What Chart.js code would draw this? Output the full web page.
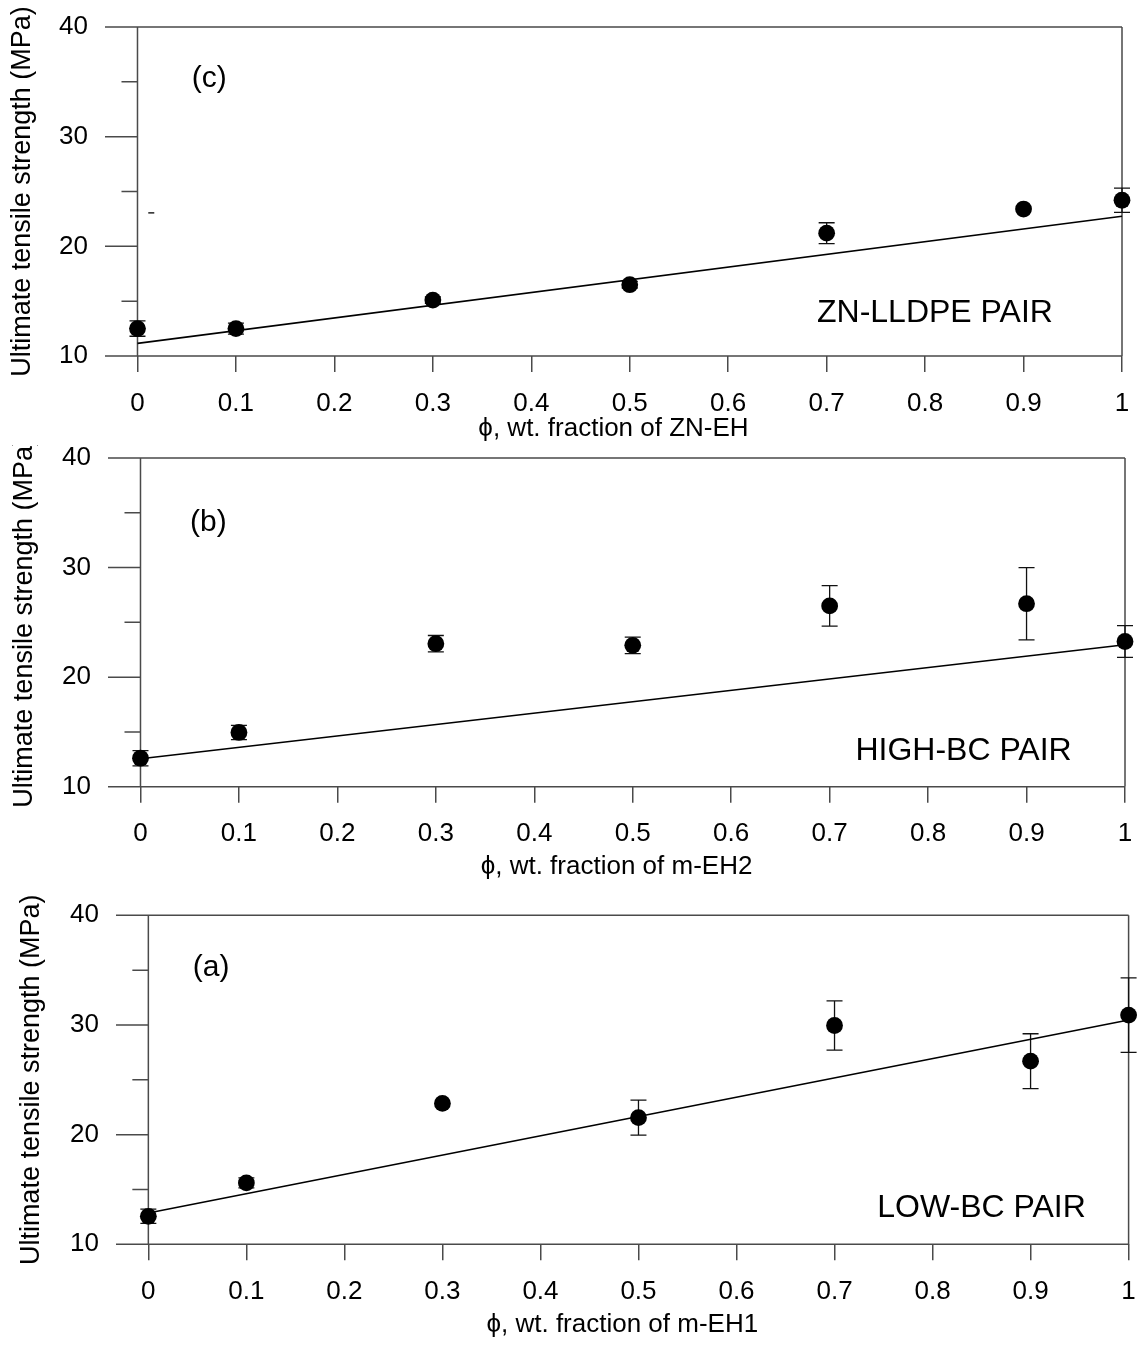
<!DOCTYPE html>
<html>
<head>
<meta charset="utf-8">
<title>Ultimate tensile strength vs blend fraction</title>
<script src="https://cdn.jsdelivr.net/npm/chart.js@4.4.0/dist/chart.umd.min.js"></script>
<style>
  html, body { margin: 0; padding: 0; background: #fff; }
  #wrap { position: relative; width: 1137px; height: 1345px; overflow: hidden; }
  #wrap canvas { position: absolute; left: 0; display: block; }
</style>
</head>
<body>
<div id="wrap">
  <canvas id="chartC"></canvas>
  <canvas id="chartB"></canvas>
  <canvas id="chartA"></canvas>
</div>
<script>
// ---- data ----
const phi = [0, 0.1, 0.3, 0.5, 0.7, 0.9, 1];
const fitPhi = [0, 1];

const xTickValues = [0, 0.1, 0.2, 0.3, 0.4, 0.5, 0.6, 0.7, 0.8, 0.9, 1];
const xTickLabels = ['0', '0.1', '0.2', '0.3', '0.4', '0.5', '0.6', '0.7', '0.8', '0.9', '1'];
const yTickValues = [10, 20, 30, 40];
const yMinorTicks = [15, 25, 35];

// (c) ZN-LLDPE pair
const strengthC = [12.5, 12.5, 15.1, 16.5, 21.2, 23.4, 24.2];
const errorC = [0.7, 0.5, 0.3, 0.3, 0.95, 0, 1.1];
const fitC = [11.15, 22.75];
const strayPhiC = [0.014];
const strayValC = [23.05];

// (b) HIGH-BC pair
const strengthB = [12.6, 14.95, 23.05, 22.9, 26.5, 26.7, 23.25];
const errorB = [0.7, 0.65, 0.75, 0.75, 1.85, 3.3, 1.45];
const fitB = [12.55, 22.95];

// (a) LOW-BC pair
const strengthA = [12.55, 15.6, 22.85, 21.55, 29.95, 26.7, 30.9];
const errorA = [0.65, 0.45, 0, 1.6, 2.25, 2.5, 3.4];
const fitA = [12.85, 30.45];

const yTitle = 'Ultimate tensile strength (MPa)';
const FONT = '"Liberation Sans", Arial, Helvetica, sans-serif';
const AXIS = '#4a4a4a';

// draws the boxed frame, the y axis at phi = 0 and its ticks, error bars, texts
const frameAxes = {
  id: 'frameAxes',
  beforeDatasetsDraw(chart) {
    const { ctx, chartArea: a, scales: { x, y } } = chart;
    const x0 = x.getPixelForValue(0);
    const x1 = x.getPixelForValue(1);
    const yTop = y.getPixelForValue(40);
    const yBot = y.getPixelForValue(10);
    ctx.save();
    ctx.strokeStyle = AXIS;
    ctx.lineWidth = 1.5;
    ctx.beginPath();
    ctx.moveTo(a.left, yTop); ctx.lineTo(x1, yTop);
    ctx.moveTo(a.left, yBot); ctx.lineTo(x1, yBot);
    ctx.moveTo(x0, yTop); ctx.lineTo(x0, yBot);
    ctx.moveTo(x1, yTop); ctx.lineTo(x1, yBot);
    [20, 30].forEach(v => {
      const py = y.getPixelForValue(v);
      ctx.moveTo(a.left, py); ctx.lineTo(x0, py);
    });
    yMinorTicks.forEach(v => {
      const py = y.getPixelForValue(v);
      ctx.moveTo(x0 - 16, py); ctx.lineTo(x0, py);
    });
    ctx.stroke();

    // error bars
    chart.data.datasets.forEach(ds => {
      if (!ds.errorBars) return;
      ctx.strokeStyle = '#111';
      ctx.lineWidth = 1.3;
      ds.data.forEach((p, i) => {
        const e = ds.errorBars[i];
        if (!e) return;
        const px = x.getPixelForValue(p.x);
        const lo = y.getPixelForValue(p.y - e);
        const hi = y.getPixelForValue(p.y + e);
        ctx.beginPath();
        ctx.moveTo(px, lo); ctx.lineTo(px, hi);
        ctx.moveTo(px - 8, lo); ctx.lineTo(px + 8, lo);
        ctx.moveTo(px - 8, hi); ctx.lineTo(px + 8, hi);
        ctx.stroke();
      });
    });
    ctx.restore();
  },
  afterDraw(chart) {
    const opts = chart.options.plugins.frameAxes;
    const { ctx, chartArea: a, scales: { x, y } } = chart;
    ctx.save();
    ctx.fillStyle = '#000';
    ctx.textAlign = 'center';
    ctx.textBaseline = 'middle';
    (opts.notes || []).forEach(n => {
      ctx.font = n.size + 'px ' + FONT;
      ctx.fillText(n.text, x.getPixelForValue(n.x), y.getPixelForValue(n.y));
    });
    // vertical axis title, not squeezed to the plot height
    ctx.translate(opts.yTitleX, (a.top + a.bottom) / 2);
    ctx.rotate(-Math.PI / 2);
    ctx.font = '27px ' + FONT;
    ctx.fillText(yTitle, 0, 0);
    ctx.restore();
  }
};

function makePanel(id, layout, values, errors, fit, xTitle, notes, extra) {
  const canvas = document.getElementById(id);
  const titleHalf = 26 * 1.2 / 2;
  const bottomEdge = layout.titleY + titleHalf;
  const height = Math.ceil(bottomEdge - layout.top) + 1;
  canvas.width = 1137;
  canvas.height = height;
  canvas.style.top = layout.top + 'px';

  const datasets = [
    {
      type: 'line',
      data: fitPhi.map((v, i) => ({ x: v, y: fit[i] })),
      borderColor: '#000',
      borderWidth: 1.6,
      pointRadius: 0,
      fill: false,
      clip: false
    },
    {
      type: 'scatter',
      data: phi.map((v, i) => ({ x: v, y: values[i] })),
      errorBars: errors,
      backgroundColor: '#000',
      borderColor: '#000',
      borderWidth: 0,
      pointRadius: 8.4,
      clip: false
    }
  ];
  if (extra) datasets.push(extra);

  return new Chart(canvas, {
    data: { datasets },
    options: {
      responsive: false,
      animation: false,
      events: [],
      layout: {
        padding: {
          top: layout.areaTop - layout.top,
          right: 1137 - layout.right,
          left: 0,
          bottom: height - (bottomEdge - layout.top)
        }
      },
      plugins: {
        legend: { display: false },
        tooltip: { enabled: false },
        frameAxes: { notes, yTitleX: layout.yTitleX }
      },
      scales: {
        x: {
          type: 'linear',
          min: -0.033,
          max: 1,
          afterBuildTicks: s => { s.ticks = xTickValues.map(v => ({ value: v })); },
          afterFit: s => {
            s.height = bottomEdge - layout.areaBottom;
            s.paddingLeft = 0;
            s.paddingRight = 0;
          },
          grid: {
            drawOnChartArea: false,
            drawTicks: true,
            tickLength: 16,
            color: AXIS,
            lineWidth: 1.5
          },
          border: { display: false },
          ticks: {
            padding: 16,
            maxRotation: 0,
            autoSkip: false,
            color: '#000',
            font: { family: FONT, size: 26 },
            callback: (v, i) => xTickLabels[i]
          },
          title: {
            display: true,
            text: xTitle,
            color: '#000',
            padding: 0,
            font: { family: FONT, size: 26, lineHeight: 1.2 }
          }
        },
        y: {
          type: 'linear',
          min: 10,
          max: 40,
          afterBuildTicks: s => { s.ticks = yTickValues.map(v => ({ value: v })); },
          afterFit: s => {
            s.width = layout.left;
            s.paddingTop = 0;
            s.paddingBottom = 0;
          },
          grid: { display: false, drawTicks: false },
          border: { display: false },
          ticks: {
            padding: 17,
            color: '#000',
            font: { family: FONT, size: 26 }
          },
          title: { display: false }
        }
      }
    },
    plugins: [frameAxes]
  });
}

makePanel('chartC',
  { top: 0, areaTop: 27, areaBottom: 356, titleY: 429, left: 105, right: 1122, yTitleX: 23 },
  strengthC, errorC, fitC, '\u03D5, wt. fraction of ZN-EH',
  [{ text: '(c)', x: 0.073, y: 35.3, size: 30 }, { text: 'ZN-LLDPE PAIR', x: 0.81, y: 13.9, size: 32 }],
  {
    type: 'scatter',
    data: strayPhiC.map((v, i) => ({ x: v, y: strayValC[i] })),
    pointStyle: 'line',
    pointRadius: 3,
    borderColor: '#000',
    borderWidth: 1.3
  });

makePanel('chartB',
  { top: 445, areaTop: 458, areaBottom: 786.7, titleY: 867, left: 108, right: 1125, yTitleX: 25 },
  strengthB, errorB, fitB, '\u03D5, wt. fraction of m-EH2',
  [{ text: '(b)', x: 0.069, y: 34.05, size: 30 }, { text: 'HIGH-BC PAIR', x: 0.836, y: 13.2, size: 32 }]);

makePanel('chartA',
  { top: 890, areaTop: 915.3, areaBottom: 1244.3, titleY: 1325, left: 116, right: 1133, yTitleX: 32 },
  strengthA, errorA, fitA, '\u03D5, wt. fraction of m-EH1',
  [{ text: '(a)', x: 0.064, y: 35.2, size: 30 }, { text: 'LOW-BC PAIR', x: 0.85, y: 13.3, size: 32 }]);
</script>
</body>
</html>
